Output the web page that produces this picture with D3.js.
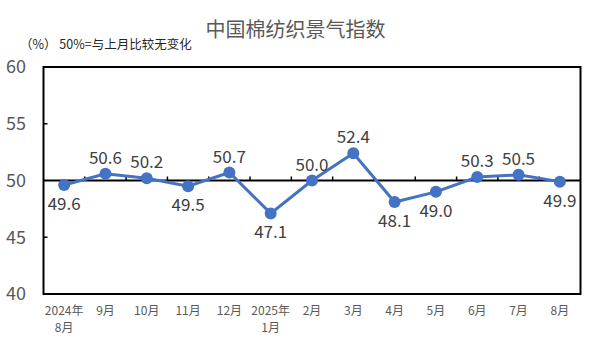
<!DOCTYPE html>
<html>
<head>
<meta charset="utf-8">
<script src="https://cdn.jsdelivr.net/npm/d3@7"></script>
<style>
    body { margin: 0; background: #fff; }
    svg { display: block; font-family: "Noto Sans CJK SC", "Noto Sans", sans-serif; }
</style>
</head>
<body>
<script>
const months = ['2024年8月', '9月', '10月', '11月', '12月', '2025年1月', '2月', '3月', '4月', '5月', '6月', '7月', '8月'];
const monthLines = [['2024年', '8月'], ['9月'], ['10月'], ['11月'], ['12月'], ['2025年', '1月'], ['2月'], ['3月'], ['4月'], ['5月'], ['6月'], ['7月'], ['8月']];
const indexValues = [49.6, 50.6, 50.2, 49.5, 50.7, 47.1, 50.0, 52.4, 48.1, 49.0, 50.3, 50.5, 49.9];
const labelBelow = [true, false, false, true, false, true, false, false, true, true, false, false, true];
const yTicks = [40, 45, 50, 55, 60];

drawLineChart();

function drawLineChart()
{
    const width = 591;
    const height = 354;

    const marginTop = 67;
    const marginRight = 10.5;
    const marginBottom = 60;
    const marginLeft = 43.5;

    const svg = d3.select('body').append('svg')
        .attr('width', width)
        .attr('height', height);

    // title
    svg.append('text')
        .attr('x', width / 2)
        .attr('y', 37)
        .attr('text-anchor', 'middle')
        .attr('font-size', 20)
        .attr('fill', '#595959')
        .text('中国棉纺织景气指数');

    // unit note
    svg.append('text')
        .attr('x', 20)
        .attr('y', 49)
        .attr('font-size', 12.5)
        .attr('fill', '#262626')
        .text('（%） 50%=与上月比较无变化');

    const x = d3.scaleBand()
        .domain(months)
        .range([marginLeft, width - marginRight]);

    const y = d3.scaleLinear()
        .domain([40, 60])
        .range([height - marginBottom, marginTop]);

    const cx = d => x(d) + x.bandwidth() / 2;

    // y labels
    svg.append('g')
        .selectAll('text')
        .data(yTicks)
        .enter()
        .append('text')
        .attr('x', 26)
        .attr('y', d => y(d))
        .attr('dy', '0.36em')
        .attr('text-anchor', 'end')
        .attr('font-size', 18)
        .attr('fill', '#595959')
        .text(d => d);

    // inner y ticks
    svg.append('g')
        .selectAll('line')
        .data([45, 55])
        .enter()
        .append('line')
        .attr('x1', marginLeft)
        .attr('x2', marginLeft + 4)
        .attr('y1', d => y(d))
        .attr('y2', d => y(d))
        .attr('stroke', '#000')
        .attr('stroke-width', 1.5);

    // baseline at 50
    svg.append('line')
        .attr('x1', marginLeft)
        .attr('x2', width - marginRight)
        .attr('y1', y(50))
        .attr('y2', y(50))
        .attr('stroke', '#000')
        .attr('stroke-width', 2);

    // category boundary ticks on 50 line
    svg.append('g')
        .selectAll('line')
        .data(months.slice(1))
        .enter()
        .append('line')
        .attr('x1', d => x(d))
        .attr('x2', d => x(d))
        .attr('y1', y(50))
        .attr('y2', y(50) - 4)
        .attr('stroke', '#000')
        .attr('stroke-width', 1.5);

    // frame
    svg.append('rect')
        .attr('x', marginLeft)
        .attr('y', marginTop)
        .attr('width', width - marginRight - marginLeft)
        .attr('height', height - marginBottom - marginTop)
        .attr('fill', 'none')
        .attr('stroke', '#000')
        .attr('stroke-width', 2);

    // x labels
    const xl = svg.append('g')
        .selectAll('text')
        .data(months)
        .enter()
        .append('text')
        .attr('x', d => cx(d))
        .attr('y', 315)
        .attr('text-anchor', 'middle')
        .attr('font-size', 12)
        .attr('fill', '#595959');

    xl.each(function(d, i)
    {
        monthLines[i].forEach((t, j) =>
        {
            d3.select(this).append('tspan')
                .attr('x', cx(d))
                .attr('dy', j === 0 ? 0 : 17)
                .text(t);
        });
    });

    const data = months.map((m, i) => ({ m, v: indexValues[i], below: labelBelow[i] }));

    // line
    const line = d3.line()
        .x(d => cx(d.m))
        .y(d => y(d.v));

    svg.append('path')
        .datum(data)
        .attr('d', line)
        .attr('fill', 'none')
        .attr('stroke', '#4472C4')
        .attr('stroke-width', 3);

    svg.append('g')
        .selectAll('circle')
        .data(data)
        .enter()
        .append('circle')
        .attr('cx', d => cx(d.m))
        .attr('cy', d => y(d.v))
        .attr('r', 6)
        .attr('fill', '#4472C4');

    // data labels
    svg.append('g')
        .selectAll('text')
        .data(data)
        .enter()
        .append('text')
        .attr('x', d => cx(d.m))
        .attr('y', d => d.below ? y(d.v) + 25 : y(d.v) - 10)
        .attr('text-anchor', 'middle')
        .attr('font-size', 17)
        .attr('fill', '#404040')
        .text(d => d.v.toFixed(1));
}
</script>
</body>
</html>
